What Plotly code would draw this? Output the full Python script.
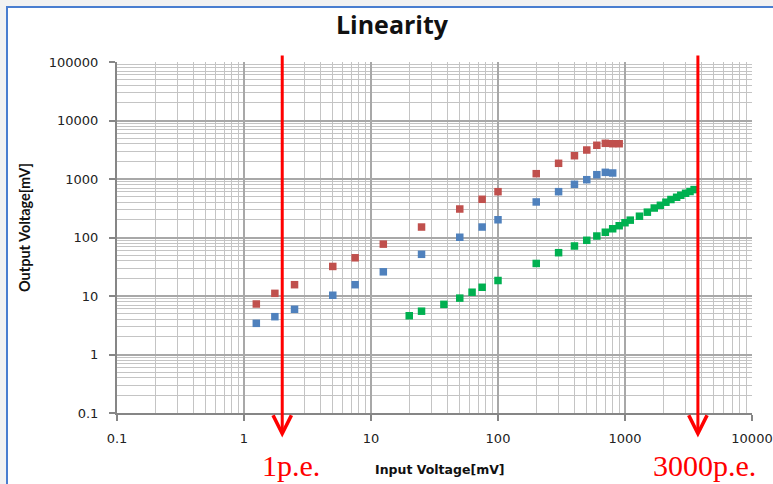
import numpy as np
import plotly.graph_objects as go

# ---- data ----
x_red = [1.25, 1.75, 2.5, 5, 7.5, 12.5, 25, 50, 75, 100, 200, 300, 400, 500, 600, 700, 800, 900]
y_red = [7.3, 11.1, 15.6, 32, 45, 77, 151, 307, 450, 607, 1233, 1855, 2500, 3130, 3770, 4075, 4010, 4010]

x_blue = [1.25, 1.75, 2.5, 5, 7.5, 12.5, 25, 50, 75, 100, 200, 300, 400, 500, 600, 700, 800]
y_blue = [3.41, 4.43, 5.93, 10.3, 15.6, 25.9, 51.6, 101, 151, 201, 405, 607, 811, 973, 1185, 1300, 1267]

x_green = [20, 25, 37.5, 50, 62.5, 75, 100, 200, 300, 400, 500, 600, 700, 800, 900, 1000,
           1100, 1300, 1500, 1700, 1900, 2100, 2300, 2550, 2750, 3000, 3250, 3500]
y_green = [4.6, 5.5, 7.2, 9.2, 11.6, 14.1, 18.4, 36, 55, 71.6, 89.6, 106, 123, 141, 159, 179,
           198, 231, 271, 319, 355, 401, 446, 487, 527, 570, 611, 659]

x_tickvals = [0.1, 1, 10, 100, 1000, 10000]
x_ticktext = ["0.1", "1", "10", "100", "1000", "10000"]
y_tickvals = [0.1, 1, 10, 100, 1000, 10000, 100000]
y_ticktext = ["0.1", "1", "10", "100", "1000", "10000", "100000"]

marker_lines = [2.0, 3750]            # input voltage of the red vertical markers
marker_labels = ["1p.e.", "3000p.e."]

W, H = 773, 484
L, R, T, B = 117, 21, 62, 71
pw, ph = W - L - R, H - T - B


def px_x(p):
    return (p - L) / pw


def px_y(p):
    return (H - B - p) / ph


fig = go.Figure()
for xs, ys, col in [(x_blue, y_blue, "#4f81bd"), (x_red, y_red, "#c0504d"), (x_green, y_green, "#00b050")]:
    fig.add_trace(go.Scatter(x=xs, y=ys, mode="markers",
                             marker=dict(symbol="square", size=7.5, color=col,
                                         line=dict(width=0)),
                             showlegend=False, cliponaxis=False))

axis_common = dict(type="log", showline=True, linecolor="#868686", linewidth=2,
                   ticks="outside", ticklen=6, tickwidth=1.5, tickcolor="#868686",
                   showgrid=True, gridcolor="#a8a8a8", gridwidth=1.5,
                   zeroline=False, mirror=False, automargin=False,
                   tickfont=dict(family="DejaVu Sans", size=13, color="#222222"),
                   minor=dict(dtick="D1", showgrid=True, gridcolor="#c4c4c4", gridwidth=1, ticks=""))

fig.update_xaxes(range=[-1, 4], tickvals=x_tickvals, ticktext=x_ticktext,
                 ticklabelstandoff=6, **axis_common)
fig.update_yaxes(range=[-1, 5], tickvals=y_tickvals, ticktext=y_ticktext,
                 ticklabelstandoff=8, **axis_common)

shapes = [dict(type="rect", xref="paper", yref="paper",
               x0=px_x(7), x1=px_x(800), y0=px_y(520), y1=px_y(7),
               fillcolor="white", line=dict(color="#4a7ed0", width=2), layer="below")]

annotations = [
    dict(text="<b>Output Voltage[mV]</b>", xref="paper", yref="paper",
         x=px_x(24), y=px_y(227), textangle=-90, showarrow=False,
         font=dict(family="Lato", size=14.5, color="#111111"), xanchor="center", yanchor="middle"),
    dict(text="<b>Input Voltage[mV]</b>", xref="paper", yref="paper",
         x=px_x(440), y=px_y(469), showarrow=False,
         font=dict(family="DejaVu Sans", size=12.5, color="#111111"), xanchor="center", yanchor="middle"),
]
shifts = [9, 7]
for xv, lab, sh in zip(marker_lines, marker_labels, shifts):
    annotations.append(dict(text="", x=np.log10(xv), xref="x", y=px_y(437.5), yref="paper",
                            showarrow=True, ax=0, ay=54 - 437.5, axref="pixel", ayref="pixel",
                            arrowhead=5, arrowsize=1.2, arrowwidth=3, arrowcolor="#ff0000",
                            standoff=0))
    annotations.append(dict(text=lab, x=np.log10(xv), xref="x", y=px_y(465), yref="paper",
                            xshift=sh, showarrow=False, xanchor="center", yanchor="middle",
                            font=dict(family="Liberation Serif", size=30, color="#ff0000")))

fig.update_layout(
    width=W, height=H,
    margin=dict(l=L, r=R, t=T, b=B, autoexpand=False),
    paper_bgcolor="#f2f2f2", plot_bgcolor="white",
    title=dict(text="<b>Linearity</b>", x=392 / W, xanchor="center", y=1 - 25 / H, yanchor="middle",
               font=dict(family="Open Sans", size=25, color="#111111")),
    shapes=shapes, annotations=annotations,
)

fig.write_html("out.html", config={"displayModeBar": False},
               post_script="document.body.style.margin='0px';document.body.style.background='#f2f2f2';")
